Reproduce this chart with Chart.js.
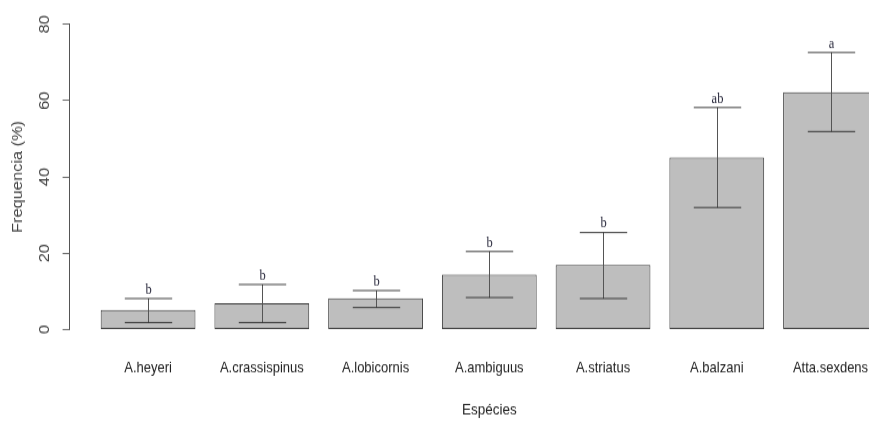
<!DOCTYPE html>
<html>
<head>
<meta charset="utf-8">
<script src="https://cdn.jsdelivr.net/npm/chart.js@4/dist/chart.umd.min.js"></script>
<style>
  html { overflow: hidden; }
  html, body { margin: 0; padding: 0; background: #fff; }
  body { width: 869px; height: 425px; }
  /* the figure is drawn at 909x363 and stretched vertically to 425px */
  #wrap { width: 909px; height: 363px; transform: scaleY(1.1708); transform-origin: 0 0; }
  #chart { display: block; }
</style>
</head>
<body>
<div id="wrap"><canvas id="chart" width="909" height="363"></canvas></div>
<script>
// Species and their mean frequency (%) with error limits
const categories = ['A.heyeri', 'A.crassispinus', 'A.lobicornis', 'A.ambiguus', 'A.striatus', 'A.balzani', 'Atta.sexdens'];
const means   = [5.1, 6.9, 8.2, 14.4, 16.9, 45.1, 62.2];
const errLow  = [1.9, 1.9, 5.7, 8.4, 8.1, 32.1, 51.8];
const errHigh = [8.1, 11.8, 10.2, 20.5, 25.5, 58.1, 72.6];
// Significance groups printed above each error bar
const groups  = ['b', 'b', 'b', 'b', 'b', 'ab', 'a'];
const yTicks  = [0, 20, 40, 60, 80];

// barplot-style layout: bars of width 1 separated by a 0.2 space
const SPACE = 0.2, WIDTH = 1, CAP = 0.25;
const centers = categories.map((_, i) => SPACE + WIDTH / 2 + i * (SPACE + WIDTH));
const xLeft = SPACE, xRight = categories.length * (SPACE + WIDTH);
const xPad = (xRight - xLeft) * 0.04;
const STRETCH = 1.1708;

// keep horizontal strokes on whole screen pixels after the vertical stretch
const snapY = v => (Math.floor(v * STRETCH) + 0.5) / STRETCH;

const errorBars = {
  id: 'errorBars',
  afterDatasetsDraw(chart) {
    const { ctx, scales: { x, y } } = chart;
    ctx.save();
    ctx.font = "12.5px 'Liberation Serif', 'Times New Roman', serif";
    ctx.textAlign = 'center';
    ctx.textBaseline = 'alphabetic';
    centers.forEach((c, i) => {
      const px = Math.round(x.getPixelForValue(c)) + 0.5;
      const half = x.getPixelForValue(c + CAP) - x.getPixelForValue(c);
      const top = snapY(y.getPixelForValue(errHigh[i]));
      const bot = snapY(y.getPixelForValue(errLow[i]));
      ctx.lineWidth = 1;
      ctx.strokeStyle = '#555';
      ctx.beginPath();
      ctx.moveTo(px, top); ctx.lineTo(px, bot);
      ctx.stroke();
      ctx.lineWidth = 1 / STRETCH;
      ctx.strokeStyle = '#222';
      ctx.beginPath();
      ctx.moveTo(px - half, top); ctx.lineTo(px + half, top);
      ctx.moveTo(px - half, bot); ctx.lineTo(px + half, bot);
      ctx.stroke();
      ctx.fillStyle = '#1f1f33';
      ctx.fillText(groups[i], px, top - 4.3);
    });
    ctx.restore();
  }
};

Chart.defaults.font.family = "'Liberation Sans', Arial, sans-serif";

new Chart(document.getElementById('chart'), {
  type: 'bar',
  data: {
    datasets: [{
      data: centers.map((c, i) => ({ x: c, y: means[i] })),
      backgroundColor: '#bebebe',
      borderColor: '#3a3a3a',
      borderWidth: 1,
      borderSkipped: false,
      categoryPercentage: 1,
      barPercentage: WIDTH / (SPACE + WIDTH)
    }]
  },
  options: {
    responsive: false,
    animation: false,
    events: [],
    layout: { padding: { top: 20.8, right: 0, left: 0, bottom: 0 } },
    plugins: { legend: { display: false }, tooltip: { enabled: false } },
    scales: {
      x: {
        type: 'linear',
        offset: false,
        min: xLeft - xPad,
        max: xRight + xPad,
        border: { display: false },
        grid: { display: false, drawTicks: false },
        afterBuildTicks(scale) { scale.ticks = centers.map(v => ({ value: v })); },
        afterFit(scale) {
          scale.height = 81.6;
          scale.paddingLeft = 0; scale.paddingRight = 0;
        },
        ticks: {
          autoSkip: false,
          maxRotation: 0,
          padding: 25.5,
          color: '#222',
          font: { size: 13 },
          callback: (v, i) => categories[i]
        },
        title: {
          display: true,
          text: 'Espécies',
          color: '#222',
          font: { size: 13.5 },
          padding: { top: 0, bottom: 4.7 }
        }
      },
      y: {
        min: 0,
        max: 80,
        border: { display: true, color: '#555', width: 1 },
        grid: { drawOnChartArea: false, drawTicks: true, tickLength: 7, color: '#555', lineWidth: 1 / STRETCH },
        afterBuildTicks(scale) { scale.ticks = yTicks.map(v => ({ value: v })); },
        afterFit(scale) {
          scale.width = 69.6;
          scale.paddingTop = 0; scale.paddingBottom = 0;
        },
        ticks: {
          autoSkip: false,
          minRotation: 90,
          maxRotation: 90,
          crossAlign: 'center',
          padding: 9.8,
          color: '#444',
          font: { size: 14 }
        },
        title: {
          display: true,
          text: 'Frequencia (%)',
          color: '#444',
          font: { size: 14 },
          padding: { top: 9.6, bottom: 0 }
        }
      }
    }
  },
  plugins: [errorBars]
});
</script>
</body>
</html>
